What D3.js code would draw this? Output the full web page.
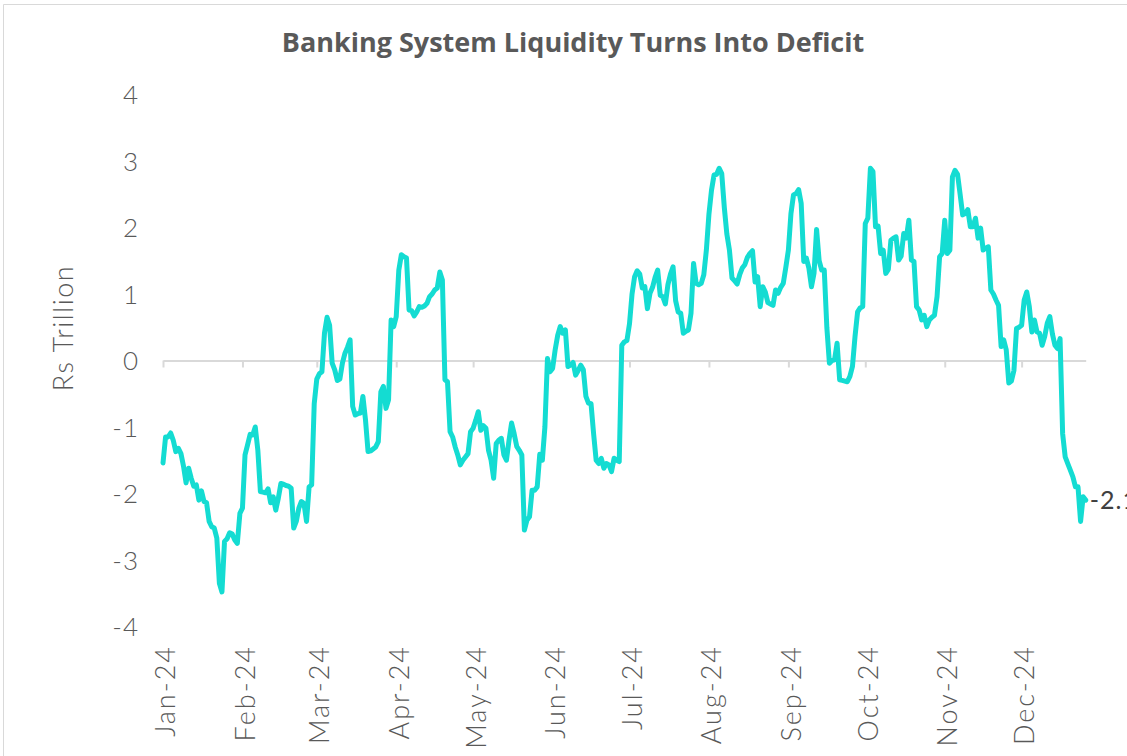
<!DOCTYPE html>
<html><head><meta charset="utf-8">
<script src="https://cdn.jsdelivr.net/npm/d3@7"></script>
<style>
html,body{margin:0;padding:0;background:#fff;}
svg{display:block;font-family:Lato,sans-serif;}
</style></head>
<body><svg id="c" width="1127" height="756"></svg>
<script>
const title = "Banking System Liquidity Turns Into Deficit";
const yTitle = "Rs Trillion";
const startDate = "2024-01-01";
const endDate = "2024-12-26";
const yTicks = [-4,-3,-2,-1,0,1,2,3,4];
const monthTicks = ["2024-01-01","2024-02-01","2024-03-01","2024-04-01","2024-05-01","2024-06-01","2024-07-01","2024-08-01","2024-09-01","2024-10-01","2024-11-01","2024-12-01"];
const lastLabel = "-2.1";
// daily values (Rs trillion), one per calendar day starting 1 Jan 2024
const liquidity = [
 -1.54,-1.15,-1.15,-1.09,-1.20,-1.37,-1.32,-1.40,-1.59,-1.84,
 -1.62,-1.77,-1.89,-1.87,-2.10,-1.96,-2.12,-2.14,-2.42,-2.50,
 -2.52,-2.67,-3.35,-3.48,-2.72,-2.68,-2.59,-2.61,-2.70,-2.75,
 -2.30,-2.22,-1.42,-1.27,-1.11,-1.12,-1.00,-1.35,-1.97,-1.98,
 -1.99,-1.93,-2.14,-2.05,-2.25,-2.07,-1.85,-1.86,-1.88,-1.89,
 -1.92,-2.52,-2.42,-2.22,-2.12,-2.15,-2.42,-1.90,-1.87,-0.65,
 -0.28,-0.20,-0.17,0.41,0.65,0.53,-0.04,-0.14,-0.30,-0.28,
 -0.04,0.11,0.20,0.31,-0.69,-0.82,-0.80,-0.79,-0.54,-0.89,
 -1.37,-1.36,-1.33,-1.30,-1.22,-0.47,-0.39,-0.72,-0.59,0.61,
 0.51,0.66,1.36,1.59,1.56,1.54,0.76,0.75,0.67,0.73,
 0.81,0.80,0.82,0.86,0.96,1.00,1.06,1.09,1.33,1.21,
 -0.29,-0.32,-1.07,-1.15,-1.30,-1.42,-1.57,-1.50,-1.45,-1.40,
 -1.07,-1.02,-0.90,-0.77,-1.05,-0.98,-1.02,-1.35,-1.50,-1.77,
 -1.25,-1.20,-1.17,-1.42,-1.50,-1.20,-0.94,-1.10,-1.29,-1.35,
 -1.42,-2.55,-2.40,-2.35,-1.95,-1.95,-1.90,-1.41,-1.50,-1.00,
 0.03,-0.17,-0.12,0.16,0.38,0.51,0.41,0.46,-0.09,-0.07,
 -0.03,-0.22,-0.15,-0.07,-0.14,-0.54,-0.64,-0.65,-1.10,-1.50,
 -1.55,-1.47,-1.62,-1.55,-1.57,-1.67,-1.47,-1.50,-1.52,0.23,
 0.28,0.30,0.55,1.00,1.26,1.35,1.30,1.09,1.11,0.78,
 1.01,1.10,1.25,1.36,0.98,0.96,0.85,1.14,1.30,1.41,
 0.90,0.73,0.71,0.41,0.44,0.46,0.71,1.46,1.16,1.14,
 1.16,1.29,1.66,2.20,2.56,2.79,2.80,2.89,2.81,2.30,
 1.90,1.66,1.24,1.20,1.15,1.29,1.39,1.44,1.55,1.61,
 1.65,1.18,1.26,0.81,1.11,1.03,0.87,0.85,0.83,1.06,
 1.01,1.10,1.16,1.40,1.66,2.21,2.49,2.51,2.57,2.36,
 1.49,1.54,1.39,1.11,1.31,1.97,1.50,1.36,1.36,0.50,
 -0.04,0.00,0.01,0.26,-0.29,-0.30,-0.31,-0.32,-0.24,-0.09,
 0.36,0.73,0.79,0.81,2.06,2.14,2.89,2.84,2.01,2.02,
 1.61,1.66,1.31,1.37,1.81,1.84,1.86,1.51,1.57,1.91,
 1.84,2.11,1.51,1.49,0.81,0.76,0.61,0.68,0.51,0.61,
 0.65,0.68,0.96,1.56,1.61,2.11,1.61,1.66,2.76,2.86,
 2.80,2.50,2.19,2.21,2.27,2.01,2.01,2.14,1.84,1.99,
 1.66,1.69,1.71,1.06,1.00,0.91,0.83,0.21,0.31,0.16,
 -0.34,-0.31,-0.15,0.48,0.50,0.53,0.91,1.03,0.81,0.43,
 0.61,0.43,0.41,0.23,0.36,0.56,0.66,0.40,0.23,0.18,
 0.33,-1.10,-1.45,-1.55,-1.65,-1.75,-1.90,-1.90,-2.42,-2.05,
 -2.10
];

const parse = d3.timeParse("%Y-%m-%d");
const fmt = d3.timeFormat("%b-%y");
const t0 = parse(startDate), t1 = parse(endDate);
const data = liquidity.map((v,i)=>({date:d3.timeDay.offset(t0,i), value:v}));

const svg = d3.select("#c");
const W = 1127, H = 756;
const m = {left:163, right:W-1085.7, top:94.5, bottom:H-626.5};

// frame
svg.append("path").attr("d",`M3.5,${H+2}V4.5H${W+2}`).attr("fill","none").attr("stroke","#d9d9d9").attr("stroke-width",1);

const x = d3.scaleTime().domain([t0,t1]).range([m.left, W-m.right]);
const y = d3.scaleLinear().domain([-4,4]).range([H-m.bottom, m.top]);

svg.append("text").attr("x",573).attr("y",52).attr("text-anchor","middle")
  .attr("font-family","'Open Sans',sans-serif")
  .attr("font-size",27).attr("font-weight",700).attr("fill","#595959").text(title);

// y tick labels (no axis line)
const yAxis = d3.axisLeft(y).tickValues(yTicks).tickSize(0).tickPadding(0).tickFormat(d=>String(d));
const gy = svg.append("g").attr("transform",`translate(139,0)`).call(yAxis);
gy.select(".domain").remove();
gy.selectAll("text").attr("font-size",26).attr("font-weight",300).attr("fill","#595959")
  .attr("font-family","Lato,sans-serif").attr("letter-spacing","1px").attr("dy","0.35em");

svg.append("text").attr("transform","translate(73,328) rotate(-90)").attr("text-anchor","middle")
  .attr("font-size",27).attr("font-weight",300).attr("fill","#595959")
  .attr("letter-spacing","1.5px").text(yTitle);

// zero axis with ticks
const xAxis = d3.axisBottom(x).tickValues(monthTicks.map(parse)).tickSize(7).tickFormat(fmt).tickSizeOuter(0);
const gx = svg.append("g").attr("transform",`translate(0,${y(0)})`).call(xAxis);
gx.select(".domain").attr("stroke","#d9d9d9").attr("stroke-width",2);
gx.selectAll(".tick line").attr("stroke","#d9d9d9").attr("stroke-width",2);
gx.selectAll("text").remove();

// month labels at bottom
const gl = svg.append("g");
monthTicks.map(parse).forEach(d=>{
  gl.append("text").attr("transform",`translate(${x(d)+3},645) rotate(-90)`)
    .attr("text-anchor","end").attr("dy","0.35em")
    .attr("font-size",27).attr("font-weight",300).attr("fill","#595959")
    .attr("letter-spacing","2px").text(fmt(d));
});

// line
const line = d3.line().x(d=>x(d.date)).y(d=>y(d.value));
svg.append("path").datum(data).attr("d",line).attr("fill","none")
  .attr("stroke","#14dcd2").attr("stroke-width",5).attr("stroke-linejoin","round").attr("stroke-linecap","round");

const last = data[data.length-1];
svg.append("text").attr("x",x(last.date)+4).attr("y",y(last.value)).attr("dy","0.35em")
  .attr("font-size",25).attr("font-weight",400).attr("fill","#404040").attr("letter-spacing","1px").text(lastLabel);
</script></body></html>
